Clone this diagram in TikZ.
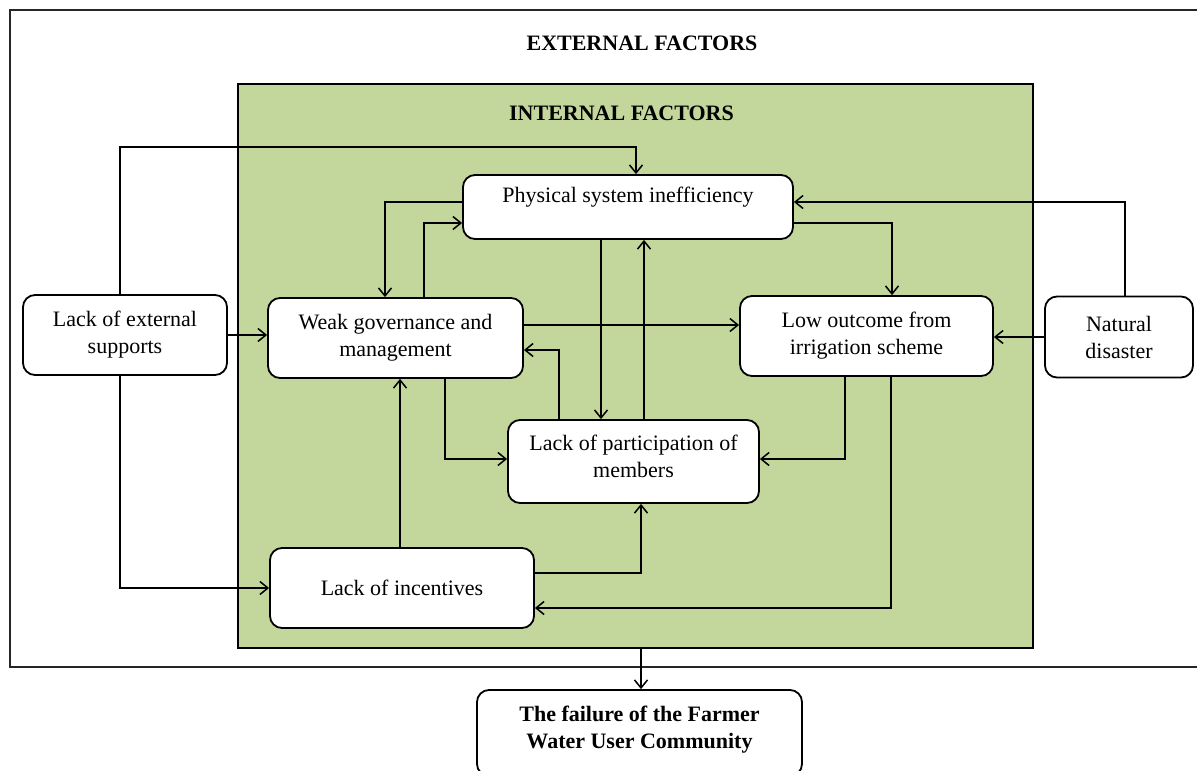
\documentclass[tikz,border=0pt]{standalone}
\usepackage{fontspec}
\setmainfont{Liberation Serif}
\usetikzlibrary{arrows.meta,calc}
\definecolor{olivebg}{RGB}{195,214,155}
\tikzset{
  x=1pt, y=-1pt,
  txtfont/.style={font=\fontsize{22}{27}\selectfont},
  box/.style={draw=black, line width=1.8pt, rounded corners=12pt, fill=white, align=center,
    inner sep=0pt, txtfont},
  arr/.style={draw=black, line width=1.8pt, -{Straight Barb[length=8pt,width=13pt,line width=1.5pt]}},
  ttl/.style={font=\bfseries\fontsize{22}{27}\selectfont, inner sep=0pt},
}
\begin{document}
\begin{tikzpicture}
\useasboundingbox (0,0) rectangle (1197,771);
\clip (0,0) rectangle (1197,771);
% frames
\node[draw=black!85, line width=2.2pt, minimum width=1195pt, minimum height=657pt, inner sep=0pt] (outer) at (607.5,338.5) {};
\node[draw=black, fill=olivebg, line width=2.2pt, minimum width=795pt, minimum height=564pt, inner sep=0pt] (green) at (635.5,366) {};
\node[ttl] (exttitle) at (642,43) {EXTERNAL FACTORS};
\node[ttl] (inttitle) at (621.5,113) {INTERNAL FACTORS};
% boxes
\node[box, minimum width=330pt, minimum height=64pt,
  label={[yshift=10pt, txtfont]center:Physical system inefficiency}] (phys) at (628,207) {};
\node[box, minimum width=204pt, minimum height=80pt] (ext) at (125,335) {Lack of external\\supports};
\node[box, minimum width=255pt, minimum height=80pt] (weak) at (395.5,338) {Weak governance and\\management};
\node[box, minimum width=253pt, minimum height=80pt] (low) at (866.5,336) {Low outcome from\\irrigation scheme};
\node[box, minimum width=148pt, minimum height=81pt] (nat) at (1119,337) {Natural\\disaster};
\node[box, minimum width=251pt, minimum height=83pt,
  label={[yshift=5.5pt, align=center, txtfont]center:Lack of participation of\\members}] (part) at (633.5,461.5) {};
\node[box, minimum width=264pt, minimum height=80pt] (inc) at (402,588) {Lack of incentives};
\node[box, minimum width=325pt, minimum height=86pt,
  label={[yshift=3.5pt, align=center, font=\bfseries\fontsize{22}{27}\selectfont]center:The failure of the Farmer\\Water User Community}] (fail) at (639.5,733) {};
% helper coordinates
\coordinate (x400) at (400,0);
\coordinate (x445) at (445,0);
\coordinate (x559) at (559,0);
\coordinate (x601) at (601,0);
\coordinate (x641) at (641,0);
\coordinate (x644) at (644,0);
\coordinate (x845) at (845,0);
\coordinate (x891) at (891,0);
\coordinate (y325) at (0,325);
\coordinate (y337) at (0,337);
\coordinate (y350) at (0,350);
\coordinate (y459) at (0,459);
\coordinate (y573) at (0,573);
\coordinate (y608) at (0,608);
% connectors
\draw[arr] ($(ext.north)+(-5,0)$) -- ++(0,-147) -| ($(phys.north)+(8,0)$);
\draw[arr] (ext.east) -- (ext.east -| weak.west);
\draw[arr] ($(ext.south)+(-5,0)$) |- (inc.west);
\draw[arr] ($(phys.west)+(0,-5)$) -| ($(weak.north)+(-10.5,0)$);
\draw[arr] ($(weak.north)+(28.5,0)$) |- ($(phys.west)+(0,16)$);
\draw[arr] ($(nat.north)+(6,0)$) |- ($(phys.east)+(0,-5)$);
\draw[arr] ($(phys.east)+(0,16)$) -| ($(low.north)+(25.5,0)$);
\draw[arr] (phys.south -| x601) -- (part.north -| x601);
\draw[arr] (part.north -| x644) -- (phys.south -| x644);
\draw[arr] (weak.east |- y325) -- (low.west |- y325);
\draw[arr] (part.north -| x559) |- (weak.east |- y350);
\draw[arr] (weak.south -| x445) |- (part.west |- y459);
\draw[arr] (low.south -| x845) |- (part.east |- y459);
\draw[arr] (inc.north -| x400) -- (weak.south -| x400);
\draw[arr] (inc.east |- y573) -| (part.south -| x641);
\draw[arr] (low.south -| x891) |- (inc.east |- y608);
\draw[arr] (nat.west |- y337) -- (low.east |- y337);
\draw[arr] (green.south -| x641) -- (fail.north -| x641);
\end{tikzpicture}
\end{document}
